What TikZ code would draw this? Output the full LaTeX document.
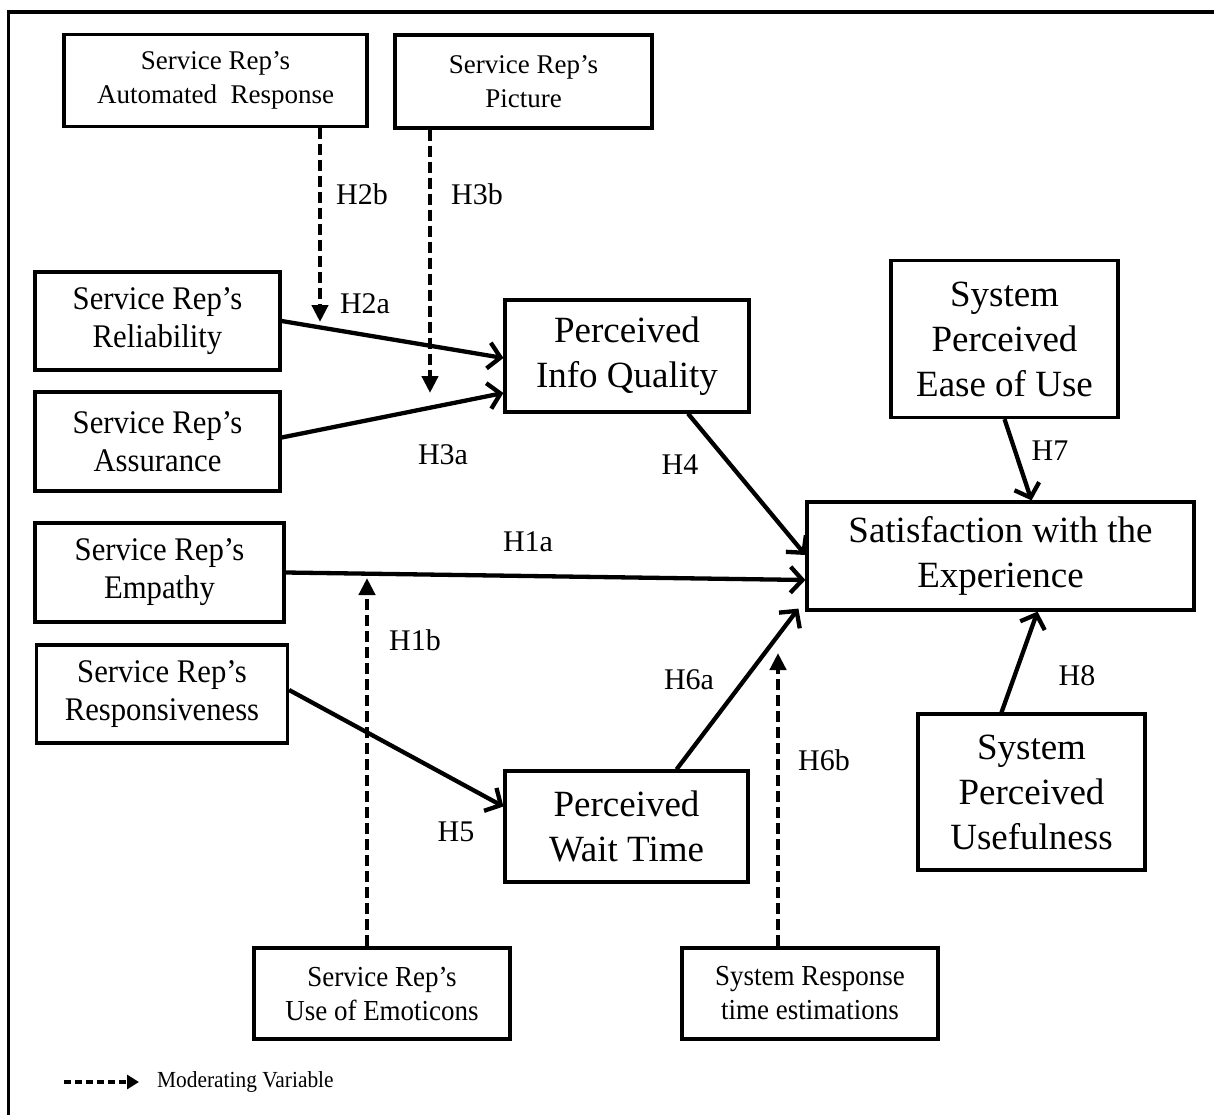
\documentclass[tikz,border=0pt]{standalone}
\usepackage{fontspec}
\setmainfont{Liberation Serif}
\newfontfamily\condfont[FakeStretch=0.93]{Liberation Serif}
\usetikzlibrary{arrows.meta,calc}
\tikzset{
  box/.style={draw, line width=3.2pt, inner sep=0pt, align=center},
  smalltxt/.style={font=\fontsize{27}{34}\selectfont},
  bottxt/.style={font=\condfont\fontsize{29}{34}\selectfont},
  lefttxt/.style={font=\condfont\fontsize{33}{38}\selectfont},
  bigtxt/.style={font=\fontsize{37}{45}\selectfont},
  hyp/.style={font=\fontsize{30}{34}\selectfont, inner sep=0pt},
  solidarr/.style={line width=4.3pt, -{Straight Barb[length=12pt,width=26pt,line width=4.3pt]}},
  modarr/.style={line width=4.3pt, dash pattern=on 11pt off 5pt, -{Triangle[length=17pt,width=16pt]}},
  legarr/.style={line width=3.4pt, dash pattern=on 7pt off 4pt, -{Triangle[length=12pt,width=14pt]}}
}
\begin{document}
\begin{tikzpicture}[x=1pt,y=-1pt]
\useasboundingbox (0,0) rectangle (1214,1115);
% frame (top and left only)
\draw[line width=3.4pt] (8.5,1115) -- (8.5,12) -- (1214,12);

% moderator boxes (top)
\node[box, smalltxt, minimum width=303pt, minimum height=92pt] (auto) at (215.5,80.5) {Service Rep’s\\Automated\ \ Response};
\node[box, smalltxt, minimum width=257pt, minimum height=93pt] (pic) at (523.5,81.5) {Service Rep’s\\Picture};

% left boxes
\node[box, lefttxt, minimum width=245pt, minimum height=98pt] (rel) at (157.5,321) {Service Rep’s\\Reliability};
\node[box, lefttxt, minimum width=245pt, minimum height=99pt] (ass) at (157.5,441.5) {Service Rep’s\\Assurance};
\node[box, lefttxt, minimum width=249pt, minimum height=99pt] (emp) at (159.5,572.5) {Service Rep’s\\Empathy};
\node[box, lefttxt, minimum width=251pt, minimum height=98pt] (resp) at (162,694) {Service Rep’s\\Responsiveness};

% mediators
\node[box, bigtxt, minimum width=244pt, minimum height=112pt] (iq) at (627,356) {Perceived\\Info Quality};
\node[box, bigtxt, minimum width=243pt, minimum height=111pt] (wait) at (626.5,826.5) {Perceived\\Wait Time};

% right side
\node[box, bigtxt, minimum width=227pt, minimum height=157pt] (ease) at (1004.5,339) {System\\Perceived\\Ease of Use};
\node[box, bigtxt, minimum width=387pt, minimum height=108pt] (sat) at (1000.5,556) {Satisfaction with the\\Experience};
\node[box, bigtxt, minimum width=227pt, minimum height=156pt] (use) at (1031.5,792) {System\\Perceived\\Usefulness};

% moderator boxes (bottom)
\node[box, bottxt, minimum width=256pt, minimum height=91pt] (emo) at (382,993.5) {Service Rep’s\\Use of Emoticons};
\node[box, bottxt, minimum width=256pt, minimum height=91pt] (sysr) at (810,993.5) {System Response\\time estimations};

% solid paths
\draw[solidarr] (rel.east) -- ([yshift=-2pt]iq.west);
\draw[solidarr] ([yshift=4pt]ass.east) -- ([yshift=-37pt]iq.west);
\draw[solidarr] (emp.east) -- ([yshift=-24pt]sat.west);
\draw[solidarr] ([xshift=61pt]iq.south) -- ([yshift=1pt]sat.west);
\draw[solidarr] ([yshift=4pt]resp.east) -- ([yshift=20pt]wait.west);
\draw[solidarr] ([xshift=50pt]wait.north) -- ([xshift=-7pt,yshift=3pt]sat.south west);
\draw[solidarr] (ease.south) -- ([xshift=31pt]sat.north);
\draw[solidarr] ([xshift=-30pt]use.north) -- ([xshift=37pt]sat.south);

% moderating paths
\coordinate (m2a) at (320,322);
\coordinate (m3a) at (430,393);
\coordinate (m1a) at (367,578);
\coordinate (m6a) at (778,653);
\draw[modarr] ([xshift=104.5pt]auto.south) -- (m2a);
\draw[modarr] ([xshift=-93.5pt]pic.south) -- (m3a);
\draw[modarr] ([xshift=-15pt]emo.north) -- (m1a);
\draw[modarr] ([xshift=-32pt]sysr.north) -- (m6a);

% hypothesis labels
\node[hyp] (h2b) at (362,194) {H2b};
\node[hyp] (h3b) at (477,194) {H3b};
\node[hyp] (h2a) at (365,304) {H2a};
\node[hyp] (h3a) at (443,455) {H3a};
\node[hyp] (h4) at (680,465) {H4};
\node[hyp] (h1a) at (528,542) {H1a};
\node[hyp] (h1b) at (415,640) {H1b};
\node[hyp] (h6a) at (689,680) {H6a};
\node[hyp] (h6b) at (824,760) {H6b};
\node[hyp] (h5) at (456,832) {H5};
\node[hyp] (h7) at (1050,451) {H7};
\node[hyp] (h8) at (1077,676) {H8};

% legend
\coordinate (lg1) at (64,1082);
\coordinate (lg2) at (139,1082);
\draw[legarr] (lg1) -- (lg2);
\node[anchor=west, inner sep=0pt, font=\condfont\fontsize{23}{26}\selectfont] (legtxt) at (157,1082) {Moderating Variable};
\end{tikzpicture}
\end{document}
